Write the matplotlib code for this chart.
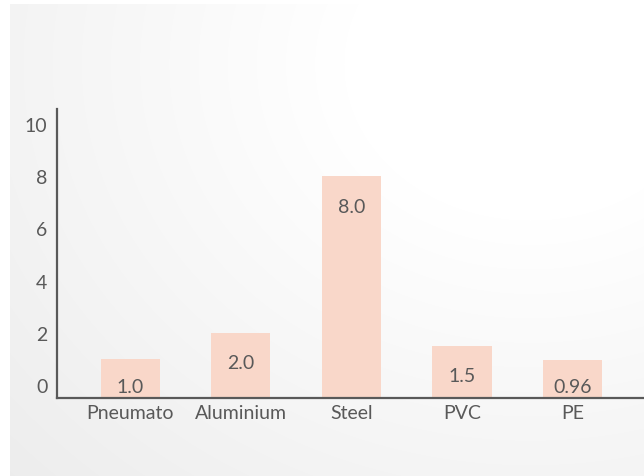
import numpy as np
import matplotlib.pyplot as plt

categories = ['Pneumato', 'Aluminium', 'Steel', 'PVC', 'PE']
values = [1.0, 2.0, 8.0, 1.5, 0.96]
labels = ['1.0', '2.0', '8.0', '1.5', '0.96']
yticks = [0, 2, 4, 6, 8, 10]

plt.rcParams['font.family'] = ['Lato', 'DejaVu Sans']
text_col = '#595959'
bar_col = '#F9D7C9'
fs = 14

fig = plt.figure(figsize=(6.44, 4.77), dpi=100, facecolor='white')

# soft grey panel behind the chart, brightest toward the upper right
bg = fig.add_axes([10 / 644, 0, 634 / 644, 472 / 477])
h, w = 472, 634
yy, xx = np.mgrid[0:h, 0:w]
d = np.hypot((xx - 520) / 620, (yy - 60) / 520)
shade = 1.0 - 0.075 * np.clip(d - 0.3, 0, None) / 0.9
shade = np.clip(shade, 0.925, 1.0)
bg.imshow(np.dstack([shade] * 3), aspect='auto', interpolation='bilinear')
bg.set_axis_off()

ymin = -0.5
ax = fig.add_axes([57 / 644, 78 / 477, 1 - 57 / 644, 289 / 477])
ax.patch.set_alpha(0)
x = np.arange(len(categories))
ax.bar(x, [v - ymin for v in values], bottom=ymin, width=0.534, color=bar_col)
for xi, v, lab in zip(x, values, labels):
    ax.text(xi, max(v - 1.15, -0.05), lab, ha='center', va='center',
            fontsize=fs, color=text_col)

ax.set_xlim(-0.665, 4.647)
ax.set_ylim(ymin, 10.57)
ax.set_xticks(x)
ax.set_xticklabels(categories, fontsize=fs, color=text_col)
ax.set_yticks(yticks)
ax.set_yticklabels([str(t) for t in yticks], fontsize=fs, color=text_col)
ax.tick_params(length=0, pad=4)
ax.tick_params(axis='y', pad=7)
for s in ['top', 'right']:
    ax.spines[s].set_visible(False)
for s in ['left', 'bottom']:
    ax.spines[s].set_color(text_col)
    ax.spines[s].set_linewidth(1.6)

fig.savefig('out.png', dpi=100)
